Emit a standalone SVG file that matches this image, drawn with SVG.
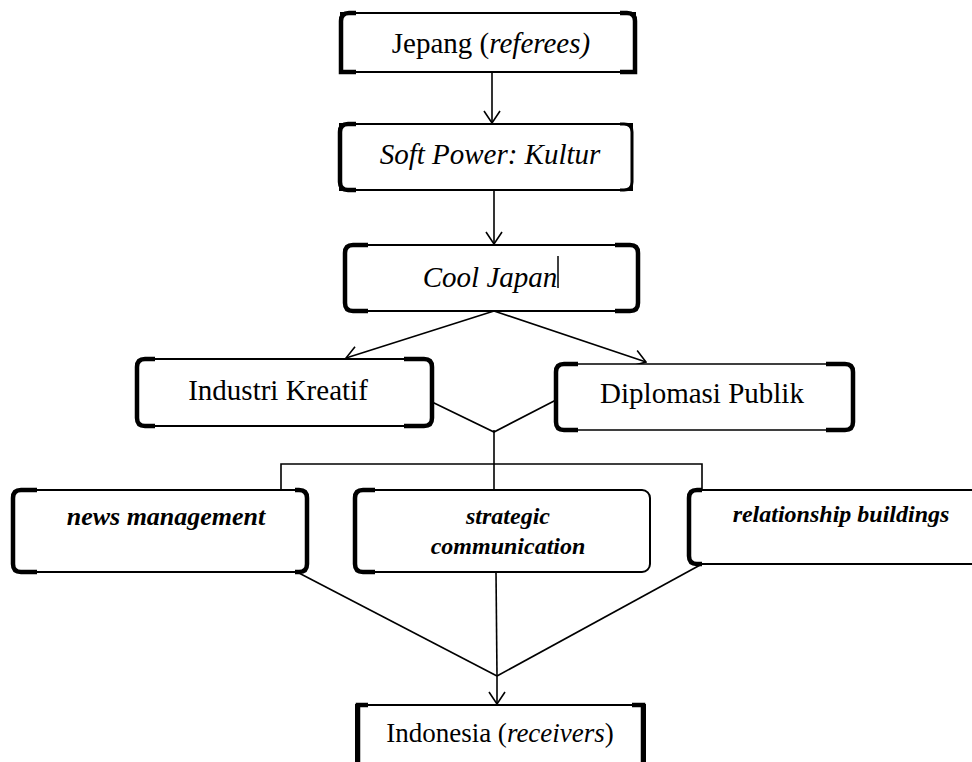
<svg xmlns="http://www.w3.org/2000/svg" width="972" height="762" viewBox="0 0 972 762">
<style>
.box{fill:#fff;stroke:#000;stroke-width:2}
.br{fill:none;stroke:#000;stroke-width:4.5;stroke-linecap:butt}
.t{font-family:"Liberation Serif","Times New Roman",serif;font-size:29px;fill:#000;text-anchor:middle}
.i{font-style:italic}
.b{font-family:"Liberation Serif","Times New Roman",serif;font-size:24px;font-weight:bold;font-style:italic;fill:#000;text-anchor:middle}
.c{fill:none;stroke:#000;stroke-width:1.6}
</style>
<defs>
<marker id="ah" markerWidth="14" markerHeight="18" refX="13" refY="9" orient="auto" markerUnits="userSpaceOnUse">
<path d="M1,1 L13,9 L1,17" fill="none" stroke="#000" stroke-width="1.6"/>
</marker>
</defs>
<g id="connectors">
<line class="c" x1="492" y1="72" x2="492" y2="123" marker-end="url(#ah)"/>
<line class="c" x1="494" y1="190" x2="494" y2="244" marker-end="url(#ah)"/>
<line class="c" x1="494" y1="311" x2="346" y2="358" marker-end="url(#ah)"/>
<line class="c" x1="494" y1="311" x2="646" y2="362" marker-end="url(#ah)"/>
<polyline class="c" points="432,402 494,432 556,400"/>
<line class="c" x1="494" y1="430" x2="494" y2="490"/>
<polyline class="c" points="281,490 281,464 702,464 702,490"/>
<line class="c" x1="297" y1="572" x2="497" y2="676"/>
<line class="c" x1="496" y1="572" x2="497" y2="676"/>
<line class="c" x1="702" y1="564" x2="497" y2="676"/>
<line class="c" x1="497" y1="676" x2="497" y2="704" marker-end="url(#ah)"/>
</g>
<g id="n-jepang">
<rect class="box" x="341" y="13" width="294" height="59"/>
<path class="br" d="M356,13 L349,13 Q341,13 341,21 L341,72 L356,72"/>
<path class="br" d="M620,13 L627,13 Q635,13 635,21 L635,72 L620,72"/>
<text class="t" x="491" y="53">Jepang (<tspan class="i">referees)</tspan></text>
</g>
<g id="n-softpower">
<rect class="box" x="340" y="124" width="292" height="66"/>
<path class="br" d="M356,124 L348,124 Q340,124 340,132 L340,182 Q340,190 348,190 L356,190"/>
<path class="c" d="M620,124 L624,124 Q632,124 632,132 L632,182 Q632,190 624,190 L620,190" style="stroke-width:3"/>
<text class="t i" x="490" y="164">Soft Power: Kultur</text>
</g>
<g id="n-cooljapan">
<rect class="box" x="345" y="245" width="293" height="66" rx="8"/>
<path class="br" d="M368,245 L353,245 Q345,245 345,253 L345,303 Q345,311 353,311 L368,311"/>
<path class="br" d="M615,245 L630,245 Q638,245 638,253 L638,303 Q638,311 630,311 L615,311"/>
<text class="t i" x="490" y="287">Cool Japan</text>
<line x1="558" y1="256" x2="558" y2="288" stroke="#000" stroke-width="1.5"/>
</g>
<g id="n-industri">
<rect class="box" x="137" y="359" width="295" height="67" rx="8"/>
<path class="br" d="M155,359 L145,359 Q137,359 137,367 L137,418 Q137,426 145,426 L155,426"/>
<path class="br" d="M404,359 L424,359 Q432,359 432,367 L432,418 Q432,426 424,426 L404,426"/>
<text class="t" x="278" y="400">Industri Kreatif</text>
</g>
<g id="n-diplomasi">
<rect class="box" x="556" y="364" width="297" height="66" rx="8" style="stroke-width:1.5"/>
<path class="br" d="M578,364 L564,364 Q556,364 556,372 L556,422 Q556,430 564,430 L578,430"/>
<path class="br" d="M826,364 L845,364 Q853,364 853,372 L853,422 Q853,430 845,430 L826,430"/>
<text class="t" x="702" y="403">Diplomasi Publik</text>
</g>
<g id="n-news">
<rect class="box" x="13" y="490" width="294" height="82" rx="8"/>
<path class="br" d="M37,490 L21,490 Q13,490 13,498 L13,564 Q13,572 21,572 L37,572"/>
<path class="br" d="M295,490 L299,490 Q307,490 307,498 L307,564 Q307,572 299,572 L295,572"/>
<text class="b" x="166" y="525" style="font-size:26px">news management</text>
</g>
<g id="n-strategic">
<rect class="box" x="355" y="490" width="295" height="82" rx="8"/>
<path class="br" d="M375,490 L363,490 Q355,490 355,498 L355,564 Q355,572 363,572 L375,572"/>
<text class="b" x="508" y="524">strategic</text>
<text class="b" x="508" y="554">communication</text>
</g>
<g id="n-relationship">
<rect class="box" x="689" y="490" width="300" height="74" rx="8"/>
<path class="br" d="M702,490 L697,490 Q689,490 689,498 L689,556 Q689,564 697,564 L702,564"/>
<text class="b" x="841" y="522">relationship buildings</text>
</g>
<g id="n-indonesia">
<rect class="box" x="356" y="705" width="289" height="70"/>
<path class="br" d="M368,705 L358,705 L358,762"/>
<path class="br" d="M632,705 L643,705 L643,762"/>
<text class="t" x="500" y="742" style="font-size:27px">Indonesia (<tspan class="i">receivers</tspan>)</text>
</g>
</svg>
